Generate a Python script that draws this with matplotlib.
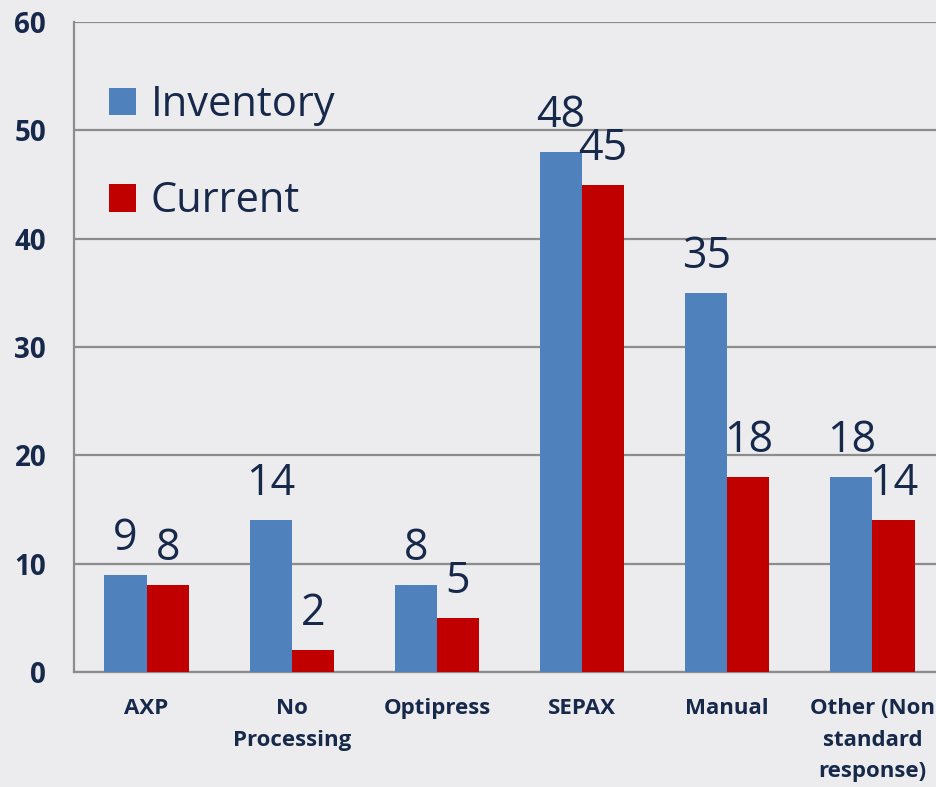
import matplotlib
matplotlib.use("Agg")
import matplotlib.pyplot as plt
import numpy as np

categories = ["AXP", "No\nProcessing", "Optipress", "SEPAX", "Manual", "Other (Non\nstandard\nresponse)"]
inventory = [9, 14, 8, 48, 35, 18]
current = [8, 2, 5, 45, 18, 14]
yticks = [0, 10, 20, 30, 40, 50, 60]

bg = "#ECEBEE"
navy = "#17294A"
blue = "#4F81BD"
red = "#C00000"
grid = "#8C8C8C"

plt.rcParams['font.family'] = ['Open Sans', 'DejaVu Sans']

fig = plt.figure(figsize=(9.36, 7.87), dpi=100, facecolor=bg)
ax = fig.add_axes([74/936, 1 - 672/787, (945 - 74)/936, (672 - 22)/787], facecolor=bg)

x = np.arange(len(categories))
w = 0.29
b1 = ax.bar(x - w/2, inventory, w, color=blue, label="Inventory", zorder=3)
b2 = ax.bar(x + w/2, current, w, color=red, label="Current", zorder=3)

for bars, vals in ((b1, inventory), (b2, current)):
    for r, v in zip(bars, vals):
        ax.annotate(str(v), (r.get_x() + r.get_width()/2, v), xytext=(0, 10),
                    textcoords="offset points", ha="center", va="bottom",
                    fontsize=31, color=navy, zorder=4)

ax.set_xlim(-0.5, 5.5)
ax.set_ylim(0, 60)
ax.set_yticks(yticks)
ax.set_yticklabels([str(t) for t in yticks], fontsize=20, fontweight="bold", color=navy)
ax.set_xticks(x)
ax.set_xticklabels(categories, fontsize=16, fontweight="bold", color=navy, linespacing=1.65)
ax.tick_params(axis="y", length=0, pad=20)
ax.tick_params(axis="x", length=0, pad=19)
for lab in ax.get_xticklabels():
    lab.set_verticalalignment("top")

ax.yaxis.grid(True, color=grid, linewidth=1.6, zorder=0)
ax.set_axisbelow(True)
for s in ("top", "right"):
    ax.spines[s].set_visible(False)
for s in ("left", "bottom"):
    ax.spines[s].set_color(grid)
    ax.spines[s].set_linewidth(1.6)

leg = ax.legend(loc="upper left", bbox_to_anchor=(-0.003, 0.962), frameon=False,
                fontsize=30, handlelength=0.65, handleheight=0.65, handletextpad=0.35,
                labelspacing=1.3, labelcolor=navy)

fig.savefig("out.png", dpi=100, facecolor=bg)
